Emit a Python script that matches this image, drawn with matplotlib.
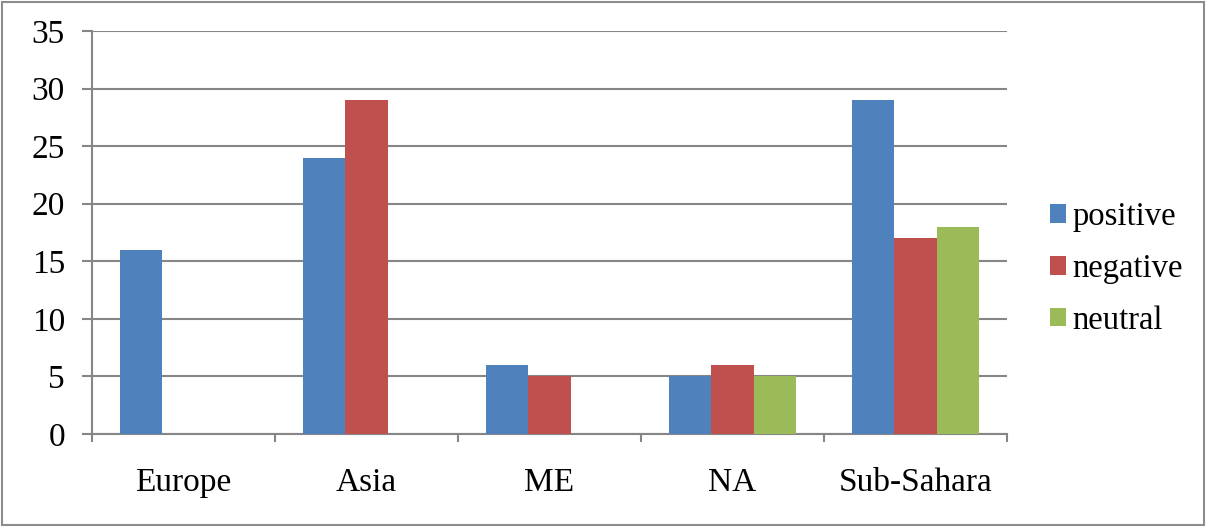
import matplotlib
matplotlib.use("Agg")
import matplotlib.pyplot as plt
import numpy as np
from matplotlib.patches import Rectangle

plt.rcParams['font.family'] = ['Liberation Serif', 'DejaVu Serif']

regions = ["Europe", "Asia", "ME", "NA", "Sub-Sahara"]
series_names = ["positive", "negative", "neutral"]
positive = [16, 24, 6, 5, 29]
negative = [0, 29, 5, 6, 17]
neutral = [0, 0, 0, 5, 18]
colors = ["#4F81BD", "#C0504D", "#9BBB59"]
grid_color = "#868686"

fig = plt.figure(figsize=(12.08, 5.27), dpi=100)
ax = fig.add_axes([0.0762, 0.1765, 0.7574, 0.7647])

x = np.arange(len(regions))
width = 0.23
for i, (vals, name) in enumerate(zip([positive, negative, neutral], series_names)):
    ax.bar(x + (i - 1) * width, vals, width, color=colors[i], label=name,
           linewidth=0, zorder=3)

ax.set_xlim(-0.5, len(regions) - 0.5)
ax.set_ylim(0, 35)
ax.set_yticks(np.arange(0, 36, 5))
ax.yaxis.grid(True, color=grid_color, linewidth=1.5, zorder=0)
ax.set_axisbelow(True)

for s in ["top", "right"]:
    ax.spines[s].set_visible(False)
for s in ["left", "bottom"]:
    ax.spines[s].set_color(grid_color)
    ax.spines[s].set_linewidth(1.5)

ax.tick_params(axis='y', direction='out', length=7.5, width=1.5, color=grid_color,
               labelsize=24, pad=12)
ax.set_xticks(x)
ax.set_xticklabels(regions)
ax.tick_params(axis='x', which='major', length=0, labelsize=24, pad=24)
ax.set_xticks(np.arange(-0.5, len(regions), 1), minor=True)
ax.tick_params(axis='x', which='minor', direction='out', length=6, width=1.5,
               color=grid_color)

leg = fig.legend(loc='center left', bbox_to_anchor=(0.858, 0.49), frameon=False,
                 fontsize=23.5, handlelength=0.5, handleheight=0.5,
                 handletextpad=0.2, labelspacing=0.65, borderaxespad=0)

fig.patches.append(Rectangle((0.002, 0.003), 0.995, 0.994, transform=fig.transFigure,
                             fill=False, edgecolor="#8C8C8C", linewidth=1.5))

fig.savefig("out.png", dpi=100)
